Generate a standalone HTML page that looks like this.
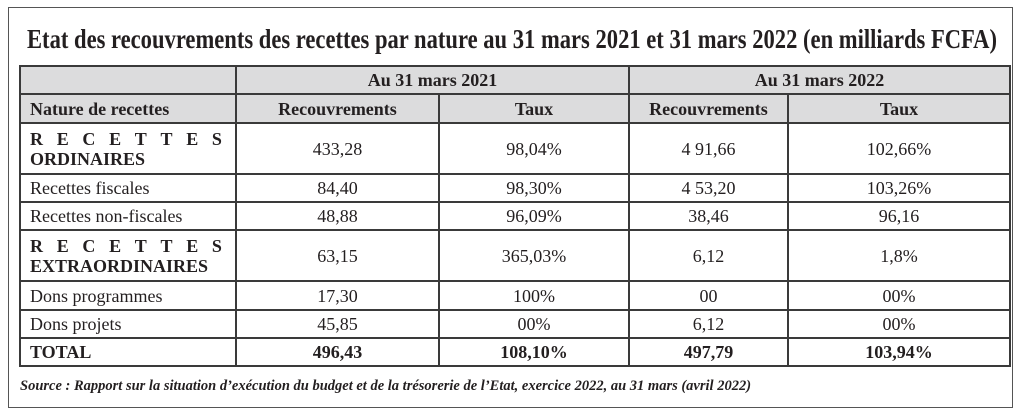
<!DOCTYPE html>
<html><head><meta charset="utf-8"><style>
body{margin:0;background:#fff;width:1024px;height:419px;overflow:hidden;font-family:"Liberation Serif",serif;color:#231f20}
.outer{position:absolute;left:8px;top:7px;width:1005px;height:401px;border:1.5px solid #555;box-sizing:border-box}
svg.t{position:absolute;left:0;top:0}
table{position:absolute;left:19px;top:65px;width:992px;border-collapse:collapse;font-size:18px}
td{border:2px solid #3a3a3a;padding:0 9px;text-align:center;line-height:20px}
.h td{background:#dcdcdd;font-weight:bold}
td.l{text-align:left}
b{font-weight:bold}
.sp{display:flex;justify-content:space-between;font-weight:bold;padding-right:4px}
.src{position:absolute;left:20px;top:378px;font-size:14.5px;font-weight:bold;font-style:italic;white-space:nowrap}
</style></head><body>
<div class="outer"></div>
<svg class="t" width="1024" height="60"><text x="27" y="48" textLength="970" lengthAdjust="spacingAndGlyphs" font-family="Liberation Serif" font-weight="bold" font-size="27" fill="#231f20">Etat des recouvrements des recettes par nature au 31 mars 2021 et 31 mars 2022 (en milliards FCFA)</text></svg>
<table>
<colgroup><col style="width:216px"><col style="width:203px"><col style="width:190px"><col style="width:159px"><col></colgroup>
<tr class="h" style="height:28px"><td></td><td colspan="2">Au 31 mars 2021</td><td colspan="2">Au 31 mars 2022</td></tr>
<tr class="h" style="height:29px"><td class="l">Nature de recettes</td><td>Recouvrements</td><td>Taux</td><td>Recouvrements</td><td>Taux</td></tr>
<tr style="height:51px"><td class="l"><div class="sp"><span>R</span><span>E</span><span>C</span><span>E</span><span>T</span><span>T</span><span>E</span><span>S</span></div><b>ORDINAIRES</b></td><td>433,28</td><td>98,04%</td><td>4 91,66</td><td>102,66%</td></tr>
<tr style="height:28px"><td class="l">Recettes fiscales</td><td>84,40</td><td>98,30%</td><td>4 53,20</td><td>103,26%</td></tr>
<tr style="height:28px"><td class="l">Recettes non-fiscales</td><td>48,88</td><td>96,09%</td><td>38,46</td><td>96,16</td></tr>
<tr style="height:51px"><td class="l"><div class="sp"><span>R</span><span>E</span><span>C</span><span>E</span><span>T</span><span>T</span><span>E</span><span>S</span></div><b>EXTRAORDINAIRES</b></td><td>63,15</td><td>365,03%</td><td>6,12</td><td>1,8%</td></tr>
<tr style="height:29px"><td class="l">Dons programmes</td><td>17,30</td><td>100%</td><td>00</td><td>00%</td></tr>
<tr style="height:28px"><td class="l">Dons projets</td><td>45,85</td><td>00%</td><td>6,12</td><td>00%</td></tr>
<tr style="height:28px;font-weight:bold"><td class="l">TOTAL</td><td>496,43</td><td>108,10%</td><td>497,79</td><td>103,94%</td></tr>
</table>
<div class="src">Source : Rapport sur la situation d’exécution du budget et de la trésorerie de l’Etat, exercice 2022, au 31 mars (avril 2022)</div>
</body></html>
